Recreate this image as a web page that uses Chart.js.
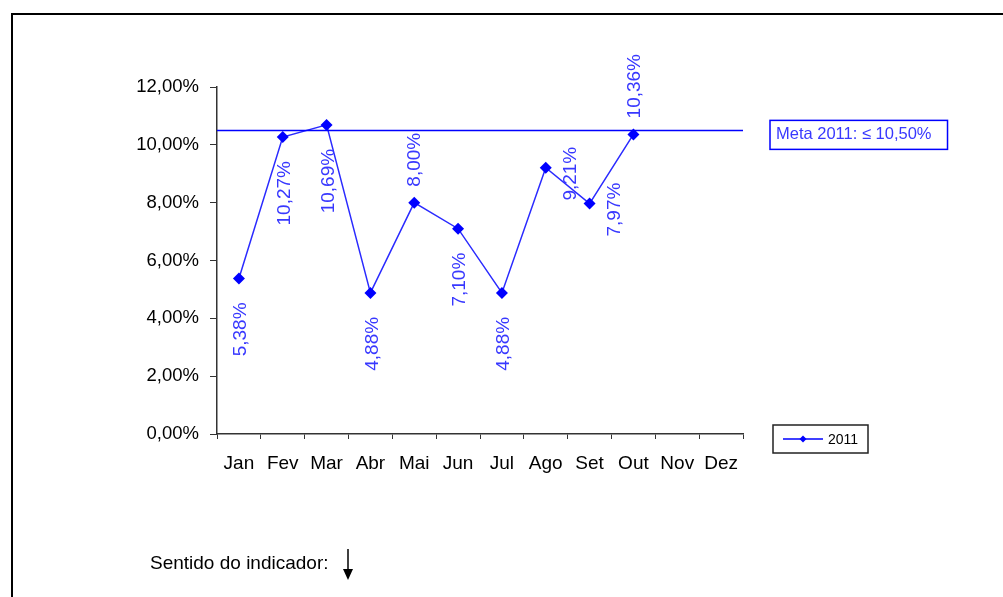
<!DOCTYPE html>
<html>
<head>
<meta charset="utf-8">
<script src="https://cdn.jsdelivr.net/npm/chart.js@4.4.1/dist/chart.umd.min.js"></script>
<style>
  html, body { margin: 0; padding: 0; background: #fff; }
  #wrap { position: relative; width: 1003px; height: 597px; }
</style>
</head>
<body>
<div id="wrap"><canvas id="indChart"></canvas></div>
<script>
// chart data
const months = ['Jan', 'Fev', 'Mar', 'Abr', 'Mai', 'Jun', 'Jul', 'Ago', 'Set', 'Out', 'Nov', 'Dez'];
const values2011 = [5.38, 10.27, 10.69, 4.88, 8.00, 7.10, 4.88, 9.21, 7.97, 10.36, null, null];
const meta2011 = 10.50;
const yTicks = [0, 2, 4, 6, 8, 10, 12];
const seriesName = '2011';
const metaText = 'Meta 2011: \u2264 10,50%';
// where each value label sits relative to its point
const labelPos = ['below', 'below', 'below', 'below', 'above', 'below', 'below', 'right', 'right', 'above', null, null];

const BLUE = '#0000ff';
const LABEL_BLUE = '#3838ff';
const FONT = 'Arial, "Liberation Sans", sans-serif';

function pct(v) {
    return v.toFixed(2).replace('.', ',') + '%';
}

const extras = {
    id: 'extras',
    afterDatasetsDraw(chart) {
        const ctx = chart.ctx;
        const area = chart.chartArea;
        const y = chart.scales.y;

        // meta line across the plot
        const my = y.getPixelForValue(meta2011);
        ctx.save();
        ctx.strokeStyle = BLUE;
        ctx.lineWidth = 1.5;
        ctx.beginPath();
        ctx.moveTo(area.left, my);
        ctx.lineTo(area.right, my);
        ctx.stroke();

        // value labels, rotated
        const meta = chart.getDatasetMeta(0);
        ctx.fillStyle = LABEL_BLUE;
        ctx.font = '19px ' + FONT;
        ctx.textBaseline = 'middle';
        meta.data.forEach(function(pt, i) {
            const v = values2011[i];
            if (v === null) return;
            const pos = labelPos[i];
            ctx.save();
            if (pos === 'below') {
                ctx.translate(pt.x + 2, pt.y + 24);
                ctx.textAlign = 'right';
            } else if (pos === 'above') {
                ctx.translate(pt.x + 1, pt.y - 16);
                ctx.textAlign = 'left';
            } else {
                ctx.translate(pt.x + 25, pt.y + 6);
                ctx.textAlign = 'center';
            }
            ctx.rotate(-Math.PI / 2);
            ctx.fillText(pct(v), 0, 0);
            ctx.restore();
        });
        ctx.restore();
    },
    afterDraw(chart) {
        const ctx = chart.ctx;
        const area = chart.chartArea;
        const y = chart.scales.y;
        const my = y.getPixelForValue(meta2011);
        ctx.save();

        // outer frame
        ctx.strokeStyle = '#000';
        ctx.lineWidth = 2;
        ctx.beginPath();
        ctx.moveTo(12, 600);
        ctx.lineTo(12, 14);
        ctx.lineTo(1010, 14);
        ctx.stroke();

        // meta box
        ctx.font = '16.5px ' + FONT;
        const mw = ctx.measureText(metaText).width;
        const bx = area.right + 27;
        ctx.strokeStyle = BLUE;
        ctx.lineWidth = 1.5;
        ctx.strokeRect(bx, my - 10, mw + 22, 29);
        ctx.fillStyle = LABEL_BLUE;
        ctx.textBaseline = 'middle';
        ctx.textAlign = 'left';
        ctx.fillText(metaText, bx + 6, my + 4.5);

        // legend box
        const ly = area.bottom + 5;
        const lx = area.right + 30;
        ctx.strokeStyle = '#222';
        ctx.lineWidth = 1.5;
        ctx.strokeRect(lx, ly - 14, 95, 28);
        ctx.strokeStyle = BLUE;
        ctx.lineWidth = 1.5;
        ctx.beginPath();
        ctx.moveTo(lx + 10, ly);
        ctx.lineTo(lx + 50, ly);
        ctx.stroke();
        ctx.fillStyle = BLUE;
        ctx.beginPath();
        ctx.moveTo(lx + 30, ly - 3.5);
        ctx.lineTo(lx + 33.5, ly);
        ctx.lineTo(lx + 30, ly + 3.5);
        ctx.lineTo(lx + 26.5, ly);
        ctx.closePath();
        ctx.fill();
        ctx.fillStyle = '#000';
        ctx.font = '14px ' + FONT;
        ctx.fillText(seriesName, lx + 55, ly + 1);

        // indicator direction
        ctx.font = '19px ' + FONT;
        ctx.fillStyle = '#000';
        ctx.fillText('Sentido do indicador:', 150, 564);
        ctx.strokeStyle = '#000';
        ctx.lineWidth = 1.5;
        ctx.beginPath();
        ctx.moveTo(348, 549);
        ctx.lineTo(348, 573);
        ctx.stroke();
        ctx.beginPath();
        ctx.moveTo(343, 569);
        ctx.lineTo(353, 569);
        ctx.lineTo(348, 580);
        ctx.closePath();
        ctx.fill();
        ctx.restore();
    }
};

const ctx = document.getElementById('indChart').getContext('2d');
const myChart = new Chart(ctx, {
    type: 'line',
    data: {
        labels: months,
        datasets: [{
            label: seriesName,
            data: values2011,
            borderColor: '#2a2aff',
            borderWidth: 1.5,
            backgroundColor: BLUE,
            pointStyle: 'rectRot',
            pointRadius: 6,
            pointBorderWidth: 0,
            pointBackgroundColor: BLUE,
            tension: 0,
            spanGaps: false
        }]
    },
    options: {
        responsive: true,
        maintainAspectRatio: false,
        animation: false,
        events: [],
        layout: { padding: { left: 12, top: 87, right: 260, bottom: 113 } },
        plugins: {
            legend: { display: false },
            tooltip: { enabled: false }
        },
        scales: {
            x: {
                offset: true,
                afterFit: function(s) { s.height = 50; },
                grid: { drawOnChartArea: false, drawTicks: true, tickLength: 5, color: '#333', offset: true },
                border: { color: '#333', width: 1.5 },
                ticks: { color: '#000', font: { family: FONT, size: 19 }, padding: 13, maxRotation: 0, autoSkip: false }
            },
            y: {
                min: 0,
                max: 12,
                afterFit: function(s) { s.width = 205; },
                afterBuildTicks: function(s) { s.ticks = yTicks.map(function(v) { return { value: v }; }); },
                grid: { drawOnChartArea: false, drawTicks: true, tickLength: 7, color: '#333' },
                border: { color: '#333', width: 1.5 },
                ticks: {
                    color: '#000',
                    font: { family: FONT, size: 18.5 },
                    padding: 11,
                    callback: function(v) { return pct(v); }
                }
            }
        }
    },
    plugins: [extras]
});
</script>
</body>
</html>
